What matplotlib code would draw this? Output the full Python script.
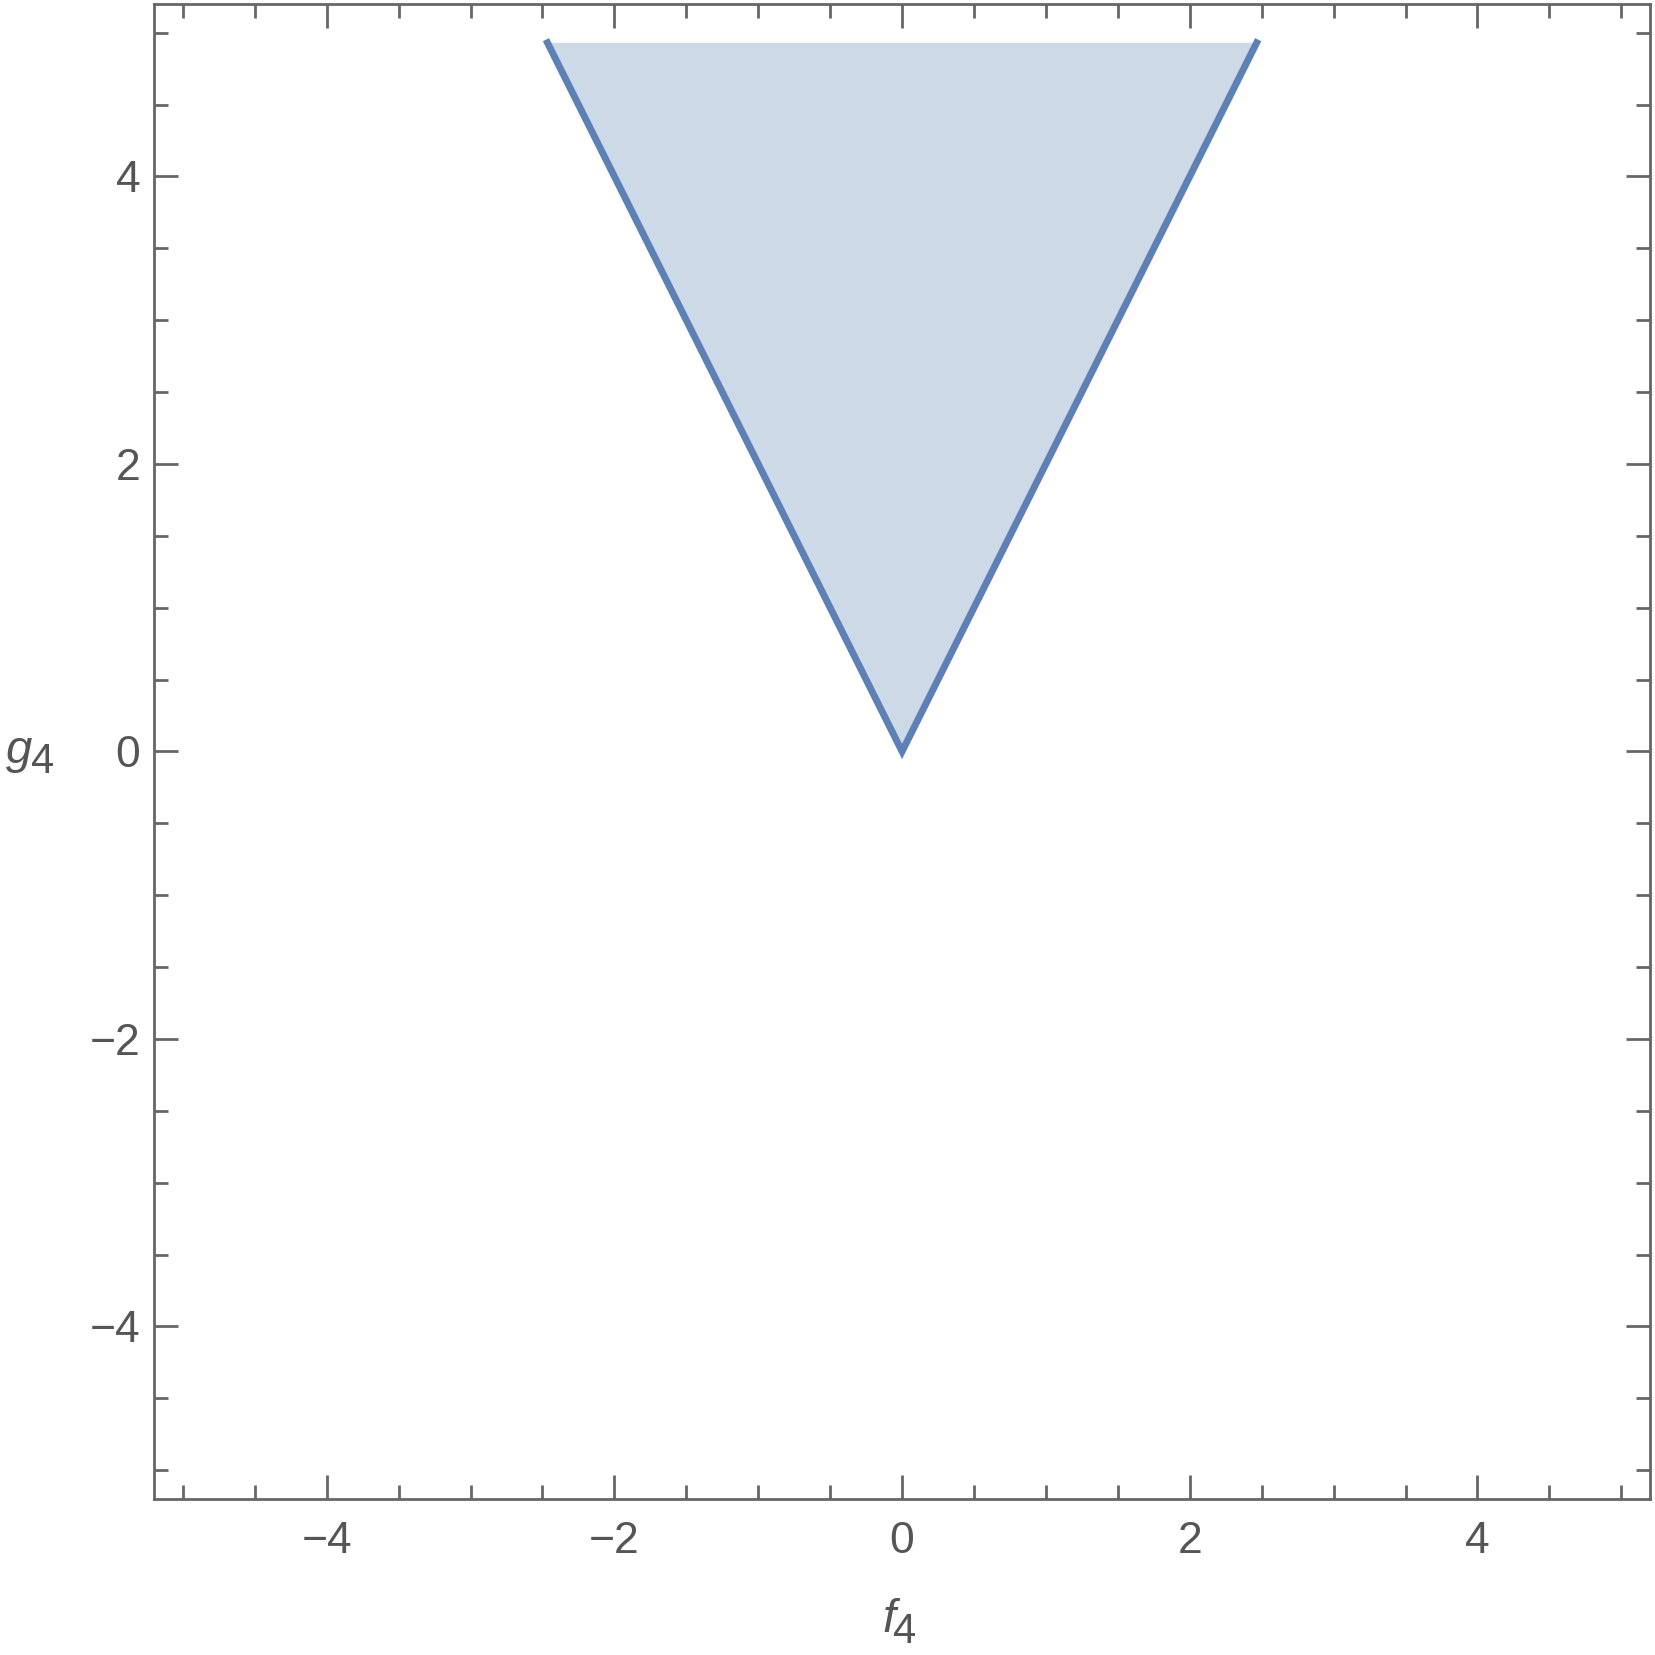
import numpy as np
import matplotlib.pyplot as plt
from matplotlib.ticker import MultipleLocator

plt.rcParams['font.family'] = ['Liberation Sans', 'DejaVu Sans']

# region g4 >= 2|f4|, cut near the top of the plot range
f_edge = [-2.465, 0.0, 2.465]
g_edge = [4.93, 0.0, 4.93]
x_range = [-5.2, 5.2]
y_range = [-5.2, 5.2]
major_ticks = [-4, -2, 0, 2, 4]
tick_labels = ['\u22124', '\u22122', '0', '2', '4']

gray = '#666666'
text_col = '#555555'
line_col = '#5E81B5'
fill_col = '#CDD9E7'

W = 1655
fig = plt.figure(figsize=(16.55, 16.55), dpi=100)
ax = fig.add_axes([0.0931, 0.0943, 0.9039, 0.9033])

ax.fill(f_edge, g_edge, color=fill_col, lw=0)
ax.plot(f_edge, g_edge, color=line_col, lw=5, solid_joinstyle='miter')

ax.set_xlim(x_range)
ax.set_ylim(y_range)
ax.set_xticks(major_ticks)
ax.set_yticks(major_ticks)
ax.set_xticklabels(tick_labels)
ax.set_yticklabels(tick_labels)
ax.xaxis.set_minor_locator(MultipleLocator(0.5))
ax.yaxis.set_minor_locator(MultipleLocator(0.5))
ax.tick_params(which='both', direction='in', top=True, right=True, color=gray, width=2)
ax.tick_params(which='major', length=17, labelsize=32, labelcolor=text_col)
ax.tick_params(axis='x', which='major', pad=16)
ax.tick_params(axis='y', which='major', pad=10)
ax.tick_params(which='minor', length=10)
for s in ax.spines.values():
    s.set_color(gray)
    s.set_linewidth(2)

# axis labels: italic letter with an upright subscript of nearly full size
fig.text(896 / W, 1 - 1632 / W, 'f', fontsize=34, style='italic', color=text_col,
         ha='right', va='baseline')
fig.text(893 / W, 1 - 1643 / W, '4', fontsize=30, color=text_col,
         ha='left', va='baseline')
fig.text(6 / W, 1 - 763 / W, 'g', fontsize=34, style='italic', color=text_col,
         ha='left', va='baseline')
fig.text(31 / W, 1 - 773 / W, '4', fontsize=30, color=text_col,
         ha='left', va='baseline')

fig.savefig('out.png', dpi=100)
